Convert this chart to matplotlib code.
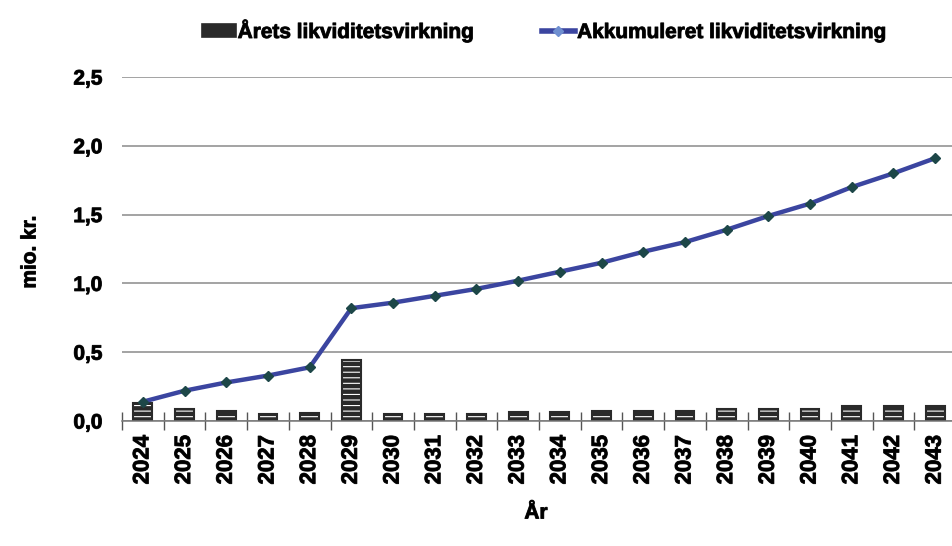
import matplotlib
matplotlib.use("Agg")
import matplotlib.pyplot as plt
import matplotlib.patheffects as pe
from matplotlib.lines import Line2D
from matplotlib.patches import Patch
import numpy as np

years = [str(y) for y in range(2024, 2044)]
aarets = [0.13, 0.09, 0.07, 0.054, 0.057, 0.44, 0.05, 0.05, 0.05, 0.065,
          0.068, 0.07, 0.07, 0.07, 0.09, 0.09, 0.09, 0.11, 0.11, 0.11]
akkumuleret = [0.14, 0.22, 0.28, 0.33, 0.39, 0.82, 0.86, 0.91, 0.96, 1.02,
               1.085, 1.15, 1.23, 1.30, 1.39, 1.49, 1.58, 1.70, 1.80, 1.91]
yticks = [0.0, 0.5, 1.0, 1.5, 2.0, 2.5]
ytick_labels = ["0,0", "0,5", "1,0", "1,5", "2,0", "2,5"]

plt.rcParams["font.family"] = ["Liberation Sans", "DejaVu Sans"]
plt.rcParams["font.weight"] = "bold"
plt.rcParams["hatch.linewidth"] = 3.2
plt.rcParams["hatch.color"] = "#2a2a2a"

heavy = [pe.withStroke(linewidth=0.7, foreground="#1a1a1a")]

fig = plt.figure(figsize=(9.52, 5.46), dpi=100)
ax = fig.add_axes([122 / 952, 125 / 546, 834 / 952, 344 / 546])

x = np.arange(len(years))
line_col = "#3b45a0"
marker_col = "#1d4748"

ax.bar(x, aarets, width=0.45, facecolor="white", edgecolor="#2a2a2a",
       hatch="---", linewidth=1.5, zorder=2)
ax.plot(x, akkumuleret, color=line_col, lw=3.2, marker="D", ms=5.5,
        markerfacecolor=marker_col, markeredgecolor=marker_col, zorder=3)

ax.set_xlim(-0.5, len(years) - 0.5)
ax.set_ylim(0, 2.5)
ax.set_yticks(yticks)
ax.set_yticklabels(ytick_labels, fontsize=15, fontweight="bold")
ax.set_xticks(x)
ax.set_xticklabels(years, rotation=90, fontsize=16, fontweight="bold")
ax.set_xticks(np.arange(-0.5, len(years), 1.0), minor=True)
ax.tick_params(axis="x", which="major", length=0, pad=10)
ax.tick_params(axis="x", which="minor", length=13, direction="inout",
               color="#555555", width=1)
ax.tick_params(axis="y", length=0, pad=14)
for t in ax.get_xticklabels() + ax.get_yticklabels():
    t.set_path_effects(heavy)

ax.yaxis.grid(True, color="#8a8a8a", lw=1.1)
ax.set_axisbelow(True)
for s in ["left", "right", "top"]:
    ax.spines[s].set_visible(False)
ax.spines["bottom"].set_color("#777777")
ax.spines["bottom"].set_linewidth(1.1)

fig.text(30 / 952, 1 - 252 / 546, "mio. kr.", rotation=90, ha="center",
         va="center", fontsize=15, fontweight="bold", path_effects=heavy)
fig.text(536 / 952, 1 - 513 / 546, "År", ha="center", va="center",
         fontsize=15, fontweight="bold", path_effects=heavy)

handles = [
    Patch(facecolor="#2a2a2a", edgecolor="#2a2a2a", linewidth=1.2),
    Line2D([0], [0], color=line_col, lw=4, marker="D", ms=5,
           markerfacecolor="#6f8fd0", markeredgecolor="#6f8fd0"),
]
labels = ["Årets likviditetsvirkning", "Akkumuleret likviditetsvirkning"]
leg = fig.legend(handles, labels, loc="center", ncol=2,
                 bbox_to_anchor=(545 / 952, 1 - 31 / 546), frameon=False,
                 prop={"size": 15, "weight": "bold"}, handlelength=1.6,
                 handletextpad=0.1, columnspacing=3.2, handleheight=0.55)
for t in leg.get_texts():
    t.set_path_effects(heavy)

fig.savefig("out.png", dpi=100)
